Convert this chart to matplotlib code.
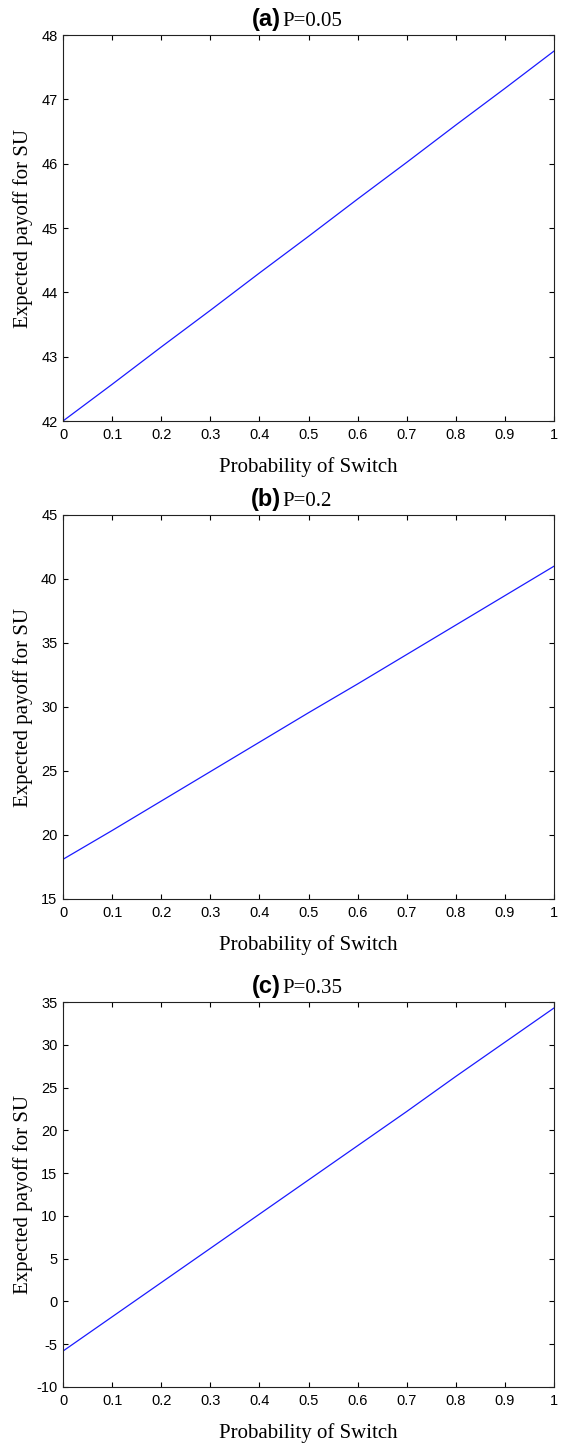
import matplotlib
matplotlib.use('Agg')
import matplotlib.pyplot as plt
import numpy as np

# probability of switch
x = [0.0, 0.1, 0.2, 0.3, 0.4, 0.5, 0.6, 0.7, 0.8, 0.9, 1.0]

# expected payoff for SU
payoff_a = [42.0, 42.57, 43.15, 43.72, 44.3, 44.87, 45.45, 46.02, 46.6, 47.17, 47.75]
payoff_b = [18.1, 20.35, 22.65, 24.95, 27.25, 29.55, 31.8, 34.1, 36.4, 38.7, 41.0]
payoff_c = [-5.8, -1.8, 2.2, 6.2, 10.2, 14.2, 18.2, 22.2, 26.3, 30.3, 34.3]

panel_tags = ["(a)", "(b)", "(c)"]
panel_p = ["P=0.05", "P=0.2", "P=0.35"]
ylims = [(42, 48), (15, 45), (-10, 35)]
yticks = [np.arange(42, 49, 1), np.arange(15, 46, 5), np.arange(-10, 36, 5)]
xticks = [0, 0.1, 0.2, 0.3, 0.4, 0.5, 0.6, 0.7, 0.8, 0.9, 1]
xticklabels = ["0", "0.1", "0.2", "0.3", "0.4", "0.5", "0.6", "0.7", "0.8", "0.9", "1"]

W, H = 562, 1443
fig = plt.figure(figsize=(W / 100, H / 100), dpi=100)

# axes boxes in pixels: (left, top, right, bottom)
boxes = [(63, 35, 554, 421), (63, 515, 554, 899), (63, 1002, 554, 1387)]

sans = 'Liberation Sans'
serif = 'Liberation Serif'

for i, series in enumerate([payoff_a, payoff_b, payoff_c]):
    l, t, r, b = boxes[i]
    w, h = r - l, b - t
    ax = fig.add_axes([l / W, 1 - b / H, w / W, h / H])
    ax.plot(x, series, color='#1a1aff', lw=0.9)
    ax.set_xlim(0, 1)
    ax.set_ylim(*ylims[i])
    ax.set_xticks(xticks)
    ax.set_xticklabels(xticklabels, family=sans, fontsize=10.5)
    ax.set_yticks(yticks[i])
    ax.set_yticklabels([str(v) for v in yticks[i]], family=sans, fontsize=10.5)
    ax.tick_params(axis='x', direction='in', top=True, length=3.5, width=0.8, pad=5)
    ax.tick_params(axis='y', direction='in', right=True, length=3.5, width=0.8, pad=4)
    for s in ax.spines.values():
        s.set_linewidth(0.8)
        s.set_color('#222222')
    ax.set_xlabel("Probability of Switch", family=serif, fontsize=15)
    ax.xaxis.set_label_coords(0.5, -36 / h)
    ax.set_ylabel("Expected payoff for SU", family=serif, fontsize=15)
    ax.yaxis.set_label_coords(-30 / w, 0.5)

    # title: bold sans tag followed by serif P value
    ax.annotate(panel_tags[i], xy=(0.444, 1.0), xycoords='axes fraction',
                xytext=(0, 6.5), textcoords='offset points', ha='right', va='baseline',
                family=sans, fontweight='bold', fontsize=17)
    ax.annotate(panel_p[i], xy=(0.446, 1.0), xycoords='axes fraction',
                xytext=(0, 6.5), textcoords='offset points', ha='left', va='baseline',
                family=serif, fontsize=15)

fig.savefig('out.png', dpi=100)
